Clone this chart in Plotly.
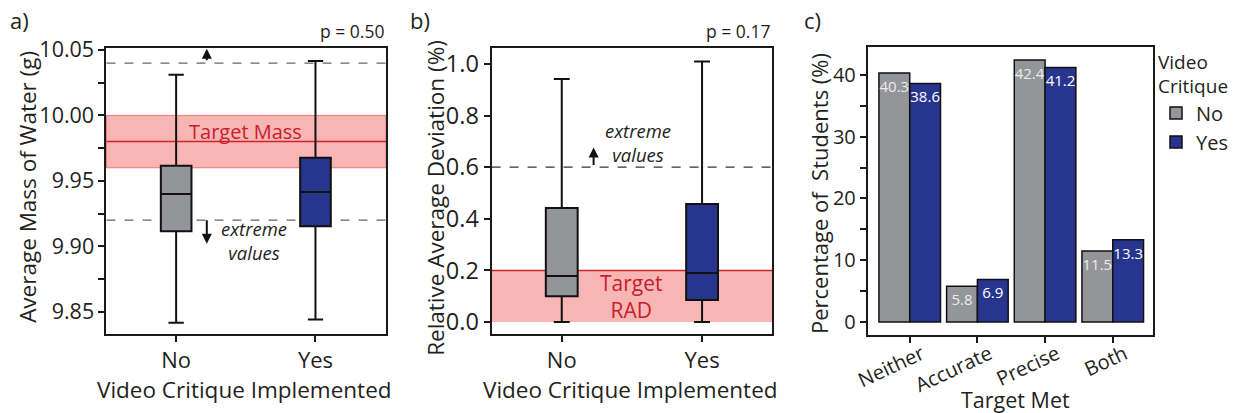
import plotly.graph_objects as go

# ---------------- data ----------------
groups = ["No", "Yes"]
# panel a: average mass of water (g)
mass_q1 = [9.9115, 9.9154]
mass_median = [9.940, 9.9415]
mass_q3 = [9.9615, 9.9677]
mass_low = [9.8415, 9.844]
mass_high = [10.031, 10.0415]
# panel b: relative average deviation (%)
rad_q1 = [0.100, 0.085]
rad_median = [0.178, 0.190]
rad_q3 = [0.442, 0.457]
rad_low = [0.0, 0.0]
rad_high = [0.942, 1.010]
# panel c: percentage of students
targets = ["Neither", "Accurate", "Precise", "Both"]
pct_no = [40.3, 5.8, 42.4, 11.5]
pct_yes = [38.6, 6.9, 41.2, 13.3]

GRAY = "#939598"
BLUE = "#27358f"
RED = "#d2232a"
REDTXT = "#c8202f"
BAND = "rgba(240,120,118,0.55)"
FONT = "Open Sans"
INK = "#231f20"
colors = [GRAY, BLUE]

W, H = 1233, 413
def px(x0, x1):
    return [x0 / W, x1 / W]
def py(ytop, ybot):
    return [1 - ybot / H, 1 - ytop / H]

fig = go.Figure()

# ---- panel a boxes
for i, g in enumerate(groups):
    fig.add_trace(go.Box(
        x=[g], q1=[mass_q1[i]], median=[mass_median[i]], q3=[mass_q3[i]],
        lowerfence=[mass_low[i]], upperfence=[mass_high[i]],
        fillcolor=colors[i], line=dict(color="#111", width=2), width=0.22,
        whiskerwidth=0.5, boxpoints=False, showlegend=False,
        xaxis="x", yaxis="y"))
# ---- panel b boxes
for i, g in enumerate(groups):
    fig.add_trace(go.Box(
        x=[g], q1=[rad_q1[i]], median=[rad_median[i]], q3=[rad_q3[i]],
        lowerfence=[rad_low[i]], upperfence=[rad_high[i]],
        fillcolor=colors[i], line=dict(color="#111", width=2), width=0.227,
        whiskerwidth=0.5, boxpoints=False, showlegend=False,
        xaxis="x2", yaxis="y2"))
# ---- panel c bars
fig.add_trace(go.Bar(
    x=targets, y=pct_no, name="No", marker=dict(color=GRAY, line=dict(color="#111", width=1.5)),
    texttemplate="%{y:.1f}", textposition="inside", insidetextanchor="end", textangle=0,
    constraintext="none", textfont=dict(size=15, color="#ececec", family=FONT),
    xaxis="x3", yaxis="y3"))
fig.add_trace(go.Bar(
    x=targets, y=pct_yes, name="Yes", marker=dict(color=BLUE, line=dict(color="#111", width=1.5)),
    texttemplate="%{y:.1f}", textposition="inside", insidetextanchor="end", textangle=0,
    constraintext="none", textfont=dict(size=15, color="white", family=FONT),
    xaxis="x3", yaxis="y3"))

axis_common = dict(showline=True, linecolor="#1a1a1a", linewidth=2, mirror=True,
                   ticks="outside", ticklen=6, tickwidth=1.5, tickcolor="#1a1a1a",
                   showgrid=False, zeroline=False, automargin=False,
                   tickfont=dict(size=21.5, color=INK, family=FONT))
minor_common = dict(ticks="outside", ticklen=6, tickwidth=1.5, tickcolor="#1a1a1a")

fig.update_layout(
    width=W, height=H, margin=dict(l=0, r=0, t=0, b=0),
    paper_bgcolor="white", plot_bgcolor="white",
    font=dict(family=FONT, color=INK),
    boxmode="overlay", barmode="group", bargap=0.09, bargroupgap=0,
    xaxis=dict(axis_common, domain=px(107, 388), range=[-0.5, 1.507], type="category", anchor="y",
               tickfont=dict(size=22, color=INK, family=FONT)),
    yaxis=dict(axis_common, domain=py(48, 334), range=[9.833, 10.0515], anchor="x",
               tick0=9.85, dtick=0.05, tickformat=".2f",
               minor=dict(minor_common, dtick=0.025, tick0=9.85)),
    xaxis2=dict(axis_common, domain=px(494, 776), range=[-0.5, 1.5], type="category", anchor="y2",
                tickfont=dict(size=22, color=INK, family=FONT)),
    yaxis2=dict(axis_common, domain=py(48, 334), range=[-0.0465, 1.062], anchor="x2",
                tick0=0, dtick=0.2, tickformat=".1f",
                tickfont=dict(size=23.5, color=INK, family=FONT)),
    xaxis3=dict(axis_common, domain=px(872, 1159), range=[-0.62, 3.6], type="category", anchor="y3",
                tickangle=-25, tickfont=dict(size=20, color=INK, family=FONT),
                ticklabelshift=12, ticklabelstandoff=-8),
    yaxis3=dict(axis_common, domain=py(47, 335), range=[-2.1, 44.5], anchor="x3",
                tick0=0, dtick=10, tickfont=dict(size=20, color=INK, family=FONT),
                minor=dict(minor_common, dtick=5)),
    legend=dict(x=1162 / W, y=1 - 44 / H, xanchor="left", yanchor="top",
                title=dict(text="Video<br>Critique", font=dict(size=19, color=INK, family=FONT), side="top"),
                font=dict(size=20, color=INK, family=FONT), tracegroupgap=2, itemwidth=30,
                bgcolor="rgba(0,0,0,0)"),
)

shapes = []
annotations = []

def title_ann(text, x, y, size=22.5, angle=0):
    return dict(xref="paper", yref="paper", x=x / W, y=1 - y / H, xanchor="center", yanchor="middle",
                text=text, showarrow=False, textangle=angle,
                font=dict(size=size, color=INK, family=FONT))

# ---- axis titles (placed as text)
annotations += [
    title_ann("Average Mass of Water (g)", 27, 187, angle=-90),
    title_ann("Video Critique Implemented", 246, 389),
    title_ann("Relative Average Deviation (%)", 437, 198, angle=-90),
    title_ann("Video Critique Implemented", 634, 389),
    title_ann("Percentage of  Students (%)", 823, 193, size=22, angle=-90),
    title_ann("Target Met", 1020, 399, size=21.5),
]

# ---- panel a decorations
shapes += [
    dict(type="rect", xref="x domain", yref="y", x0=0, x1=1, y0=9.96, y1=10.00,
         fillcolor=BAND, line=dict(color="rgba(240,90,90,0.8)", width=1), layer="below"),
    dict(type="line", xref="x domain", yref="y", x0=0, x1=1, y0=9.98, y1=9.98,
         line=dict(color=RED, width=1.5), layer="below"),
    dict(type="line", xref="x domain", yref="y", x0=0, x1=1, y0=10.04, y1=10.04,
         line=dict(color="#666", width=1.2, dash="dash"), layer="below"),
    dict(type="line", xref="x domain", yref="y", x0=0, x1=1, y0=9.92, y1=9.92,
         line=dict(color="#666", width=1.2, dash="dash"), layer="below"),
]
annotations += [
    dict(xref="x", yref="y", x=0.22, y=10.051, ax=0.22, ay=10.041, axref="x", ayref="y",
         showarrow=True, arrowhead=2, arrowsize=1, arrowwidth=2, arrowcolor="#111", text=""),
    dict(xref="x", yref="y", x=0.22, y=9.902, ax=0.22, ay=9.921, axref="x", ayref="y",
         showarrow=True, arrowhead=2, arrowsize=1, arrowwidth=2, arrowcolor="#111", text=""),
    dict(xref="x", yref="y", x=0.56, y=9.9045, text="<i>extreme<br>values</i>", showarrow=False,
         font=dict(size=18.5, color=INK, family=FONT)),
    dict(xref="x", yref="y", x=0.5, y=9.988, text="Target Mass", showarrow=False,
         font=dict(size=20, color=REDTXT, family=FONT)),
    dict(xref="x domain", yref="y domain", x=1, y=1, yshift=3, xanchor="right", yanchor="bottom",
         text="p = 0.50", showarrow=False, font=dict(size=17.5, color=INK, family=FONT)),
]
# ---- panel b decorations
shapes += [
    dict(type="rect", xref="x2 domain", yref="y2", x0=0, x1=1, y0=0, y1=0.2,
         fillcolor=BAND, line=dict(width=0), layer="below"),
    dict(type="line", xref="x2 domain", yref="y2", x0=0, x1=1, y0=0.2, y1=0.2,
         line=dict(color=RED, width=1.5), layer="below"),
    dict(type="line", xref="x2 domain", yref="y2", x0=0, x1=1, y0=0.6, y1=0.6,
         line=dict(color="#333", width=1.2, dash="dash"), layer="below"),
]
annotations += [
    dict(xref="x2", yref="y2", x=0.227, y=0.676, ax=0.227, ay=0.603, axref="x2", ayref="y2",
         showarrow=True, arrowhead=2, arrowsize=1, arrowwidth=2, arrowcolor="#111", text=""),
    dict(xref="x2", yref="y2", x=0.54, y=0.694, text="<i>extreme<br>values</i>", showarrow=False,
         font=dict(size=18.5, color=INK, family=FONT)),
    dict(xref="x2", yref="y2", x=0.5, y=0.10, text="Target<br>RAD", showarrow=False,
         font=dict(size=21, color=REDTXT, family=FONT)),
    dict(xref="x2 domain", yref="y2 domain", x=1, y=1, yshift=3, xanchor="right", yanchor="bottom",
         text="p = 0.17", showarrow=False, font=dict(size=17.5, color=INK, family=FONT)),
]
# ---- panel labels
for lbl, xp in [("a)", 8), ("b)", 410), ("c)", 806)]:
    annotations.append(dict(xref="paper", yref="paper", x=xp / W, y=1 - 3 / H,
                            xanchor="left", yanchor="top", text=lbl, showarrow=False,
                            font=dict(size=22, color=INK, family=FONT)))

fig.update_layout(shapes=shapes, annotations=annotations)
fig.write_html("out.html")
